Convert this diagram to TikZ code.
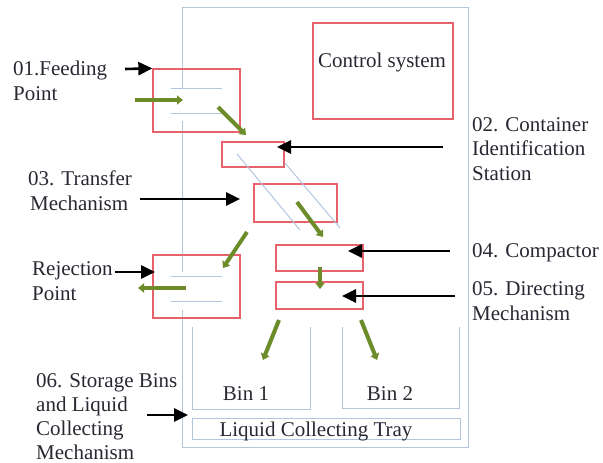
\documentclass[tikz,border=0pt]{standalone}
\usepackage{fontspec}
\setmainfont{Liberation Serif}
\usetikzlibrary{arrows.meta}
\definecolor{boxred}{RGB}{232,98,108}
\definecolor{lineblue}{RGB}{178,198,222}
\definecolor{arrgreen}{RGB}{108,140,42}
\definecolor{txt}{RGB}{40,40,50}
\tikzset{
  redbox/.style={draw=boxred,line width=1.3pt,inner sep=0pt},
  blueline/.style={draw=lineblue,line width=1pt},
  garrow/.style={draw=arrgreen,line width=4pt,-{Triangle[length=6pt,width=9pt]}},
  barrow/.style={draw=black,line width=2.6pt,-{Triangle[length=14pt,width=13pt]}},
  lbl/.style={anchor=base west,inner sep=0pt,text=txt,font=\fontsize{21}{24}\selectfont},
  ctr/.style={anchor=base,inner sep=0pt,text=txt,font=\fontsize{21}{24}\selectfont}
}
\begin{document}
\begin{tikzpicture}[x=1pt,y=-1pt]
\useasboundingbox (0,0) rectangle (603,463);
% outer frame
\draw[blueline] (182,88) -- (182,7) -- (468,7) -- (468,447) -- (182,447) -- (182,310);
\draw[blueline] (182,121) -- (182,272);
% boxes
\node[redbox,minimum width=140pt,minimum height=96pt] (ctrl) at (383,71) {};
\node[lbl] (ctrltext) at (318,67) {Control system};
\node[redbox,minimum width=87pt,minimum height=63pt] (feed) at (196.5,100.5) {};
\node[redbox,minimum width=62pt,minimum height=25pt] (ident) at (253,154.5) {};
\node[redbox,minimum width=83pt,minimum height=38pt] (trans) at (295.5,203) {};
\node[redbox,minimum width=87pt,minimum height=26pt] (comp) at (319.5,258) {};
\node[redbox,minimum width=87pt,minimum height=27pt] (dir) at (319.5,295.5) {};
\node[redbox,minimum width=87pt,minimum height=63pt] (rej) at (196.5,286.5) {};
% conveyor lines
\draw[blueline] (171,88) -- (222,88) (171,113) -- (222,113);
\draw[blueline] (171,276) -- (222,276) (171,301) -- (222,301);
% chute lines
\draw[blueline] (237,154) -- (300,230);
\draw[blueline] (285,163) -- (340,228);
% bins
\draw[blueline] (192,327) |- (310,409) -- (310,327);
\draw[blueline] (342,327) |- (459,408) -- (459,327);
\node[redbox,draw=lineblue,line width=1pt,minimum width=268pt,minimum height=21pt] (tray) at (326,428.5) {};
\node[ctr] (bin1) at (246,400) {Bin 1};
\node[ctr] (bin2) at (390,400) {Bin 2};
\node[ctr] (traytext) at (316,436) {Liquid Collecting Tray};
% coordinates
\coordinate (gf1) at (135,100); \coordinate (gf2) at (183,100);
\coordinate (g1a) at (218,107); \coordinate (g1b) at (246,135);
\coordinate (g2a) at (297,202); \coordinate (g2b) at (323,237);
\coordinate (g3a) at (247,232); \coordinate (g3b) at (223,268);
\coordinate (g4a) at (320,267); \coordinate (g4b) at (320,289);
\coordinate (g5a) at (279,320); \coordinate (g5b) at (263,360);
\coordinate (g6a) at (361,320); \coordinate (g6b) at (377,360);
\coordinate (gr1) at (186,288); \coordinate (gr2) at (138,288);
\coordinate (bf) at (125,69);
\coordinate (bi1) at (443,147); \coordinate (bi2) at (277,147);
\coordinate (bt1) at (140,199); \coordinate (bt2) at (240,199);
\coordinate (bc1) at (450,251); \coordinate (bc2) at (348,251);
\coordinate (bd1) at (455,296); \coordinate (bd2) at (342,296);
\coordinate (br1) at (115,272); \coordinate (br2) at (155,272);
\coordinate (bs1) at (147,415); \coordinate (bs2) at (188,415);
% green flow arrows
\draw[garrow] (gf1) -- (gf2);
\draw[garrow] (g1a) -- (g1b);
\draw[garrow] (g2a) -- (g2b);
\draw[garrow] (g3a) -- (g3b);
\draw[garrow] (g4a) -- (g4b);
\draw[garrow] (g5a) -- (g5b);
\draw[garrow] (g6a) -- (g6b);
\draw[garrow] (gr1) -- (gr2);
% black label arrows
\draw[barrow] (bf) -- (feed.north west);
\draw[barrow] (bi1) -- (bi2);
\draw[barrow] (bt1) -- (bt2);
\draw[barrow] (bc1) -- (bc2);
\draw[barrow] (bd1) -- (bd2);
\draw[barrow] (br1) -- (br2);
\draw[barrow] (bs1) -- (bs2);
% labels
\node[lbl] (l1a) at (13,75) {01.Feeding};
\node[lbl] (l1b) at (13,100) {Point};
\node[lbl] (l3a) at (28,185) {03. Transfer};
\node[lbl] (l3b) at (30,210) {Mechanism};
\node[lbl] (lra) at (32,275) {Rejection};
\node[lbl] (lrb) at (32,300) {Point};
\node[lbl] (l6a) at (36,387) {06. Storage Bins};
\node[lbl] (l6b) at (36,411) {and Liquid};
\node[lbl] (l6c) at (36,435) {Collecting};
\node[lbl] (l6d) at (36,459) {Mechanism};
\node[lbl] (l2a) at (472,131) {02. Container};
\node[lbl] (l2b) at (472,155) {Identification};
\node[lbl] (l2c) at (472,180) {Station};
\node[lbl] (l4) at (472,257) {04. Compactor};
\node[lbl] (l5a) at (472,295) {05. Directing};
\node[lbl] (l5b) at (472,320) {Mechanism};
\end{tikzpicture}
\end{document}
